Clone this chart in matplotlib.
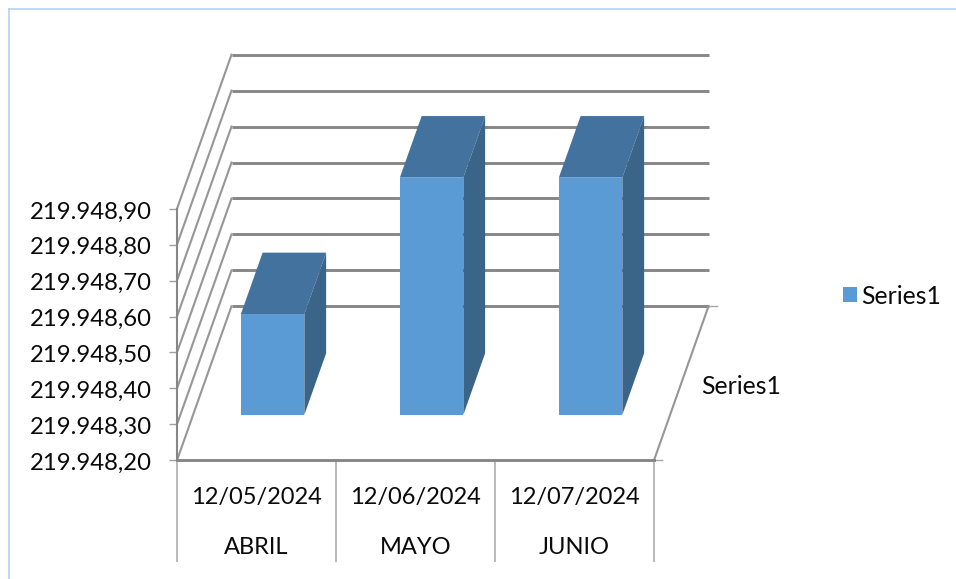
import matplotlib
matplotlib.use("Agg")
import matplotlib.pyplot as plt
from matplotlib.ticker import FixedLocator
from matplotlib.transforms import ScaledTranslation

plt.rcParams['font.family'] = ['Lato', 'DejaVu Sans']

dates = ["12/05/2024", "12/06/2024", "12/07/2024"]
months = ["ABRIL", "MAYO", "JUNIO"]
series_name = "Series1"
values = [219948.48, 219948.86, 219948.86]
y_ticks = [219948.2, 219948.3, 219948.4, 219948.5, 219948.6, 219948.7, 219948.8, 219948.9]
y_labels = ["219.948,20", "219.948,30", "219.948,40", "219.948,50",
            "219.948,60", "219.948,70", "219.948,80", "219.948,90"]

W, H = 956, 579
L, R, T, B = 177, 654, 208.7, 460.3
fig = plt.figure(figsize=(W / 100, H / 100), dpi=100, facecolor="white")
ax = fig.add_axes([L / W, 1 - B / H, (R - L) / W, (B - T) / H])
ax.set_facecolor("none")
ax.set_xlim(-0.5, 2.5)
ax.set_ylim(y_ticks[0], y_ticks[-1])

px_x = 3 / (R - L)
px_y = (y_ticks[-1] - y_ticks[0]) / (B - T)
DX, DY = 54.5 * px_x, 154 * px_y   # full depth of the floor
GRID = "#868686"
FRONT, TOP, SIDE = "#5B9BD5", "#44729F", "#3A6488"


def proj(x, y, d):
    return x + d * DX, y + d * DY


# frame of the chart area
frame = "#B4D3F2"
fig.add_artist(plt.Line2D([8.5 / W, 8.5 / W], [0, 1 - 8.5 / H], color=frame, lw=1.2))
fig.add_artist(plt.Line2D([8.5 / W, 1], [1 - 8.5 / H, 1 - 8.5 / H], color=frame, lw=1.2))

# walls and floor
x0, x1 = -0.5, 2.5
for i, t in enumerate(y_ticks):
    ax.plot(*zip(proj(x0, t, 0), proj(x0, t, 1)), color="#969696", lw=1.5, clip_on=False, zorder=1)
    ax.plot(*zip(proj(x0, t, 1), proj(x1, t, 1)), color=GRID, lw=2.1, clip_on=False, zorder=1,
            solid_capstyle="butt")
ax.plot(*zip(proj(x1, y_ticks[0], 0), proj(x1, y_ticks[0], 1)), color="#969696", lw=1.5,
        clip_on=False, zorder=1)
for d in (0, 1):
    ax.plot(*zip(proj(x1, y_ticks[0], d), (proj(x1, y_ticks[0], d)[0] + 8 * px_x, proj(x1, y_ticks[0], d)[1])),
            color="#A6A6A6", lw=1, clip_on=False, zorder=1)

# bars
pos = [0, 1, 2]
bar_w = 63.5 * px_x
d0, depth = 0.295, 0.40
floor = y_ticks[0]
for x, v in zip(pos, values):
    xl, yb = proj(x - bar_w / 2, floor, d0)
    xr = xl + bar_w
    yt = yb + (v - floor)
    ox, oy = depth * DX, depth * DY
    ax.fill([xl, xr, xr + ox, xl + ox], [yt, yt, yt + oy, yt + oy], color=TOP, lw=0, zorder=3, clip_on=False)
    ax.fill([xr, xr + ox, xr + ox, xr], [yb, yb + oy, yt + oy, yt], color=SIDE, lw=0, zorder=3, clip_on=False)
bars = ax.bar([proj(x, floor, d0)[0] for x in pos], [v - floor for v in values], width=bar_w,
              bottom=proj(0, floor, d0)[1], color=FRONT, lw=0, zorder=4, clip_on=False, label=series_name)

# axes
for s in ("top", "right"):
    ax.spines[s].set_visible(False)
ax.spines["left"].set_color(GRID)
ax.spines["left"].set_linewidth(1.5)
ax.spines["bottom"].set_color(GRID)
ax.spines["bottom"].set_linewidth(2.1)
ax.set_yticks(y_ticks, y_labels, fontsize=17.2, color="#0A0A0A")
ax.tick_params(axis="y", length=5.5, width=1, color="#A0A0A0", pad=12.6)
nudge = ScaledTranslation(0, -1.2 / 100, fig.dpi_scale_trans)
for lab in ax.get_yticklabels():
    lab.set_transform(lab.get_transform() + nudge)
ax.set_xticks(pos, dates, fontsize=17, color="#0A0A0A")
ax.xaxis.set_minor_locator(FixedLocator([-0.5, 0.5, 1.5, 2.5]))
ax.tick_params(axis="x", which="major", length=0, pad=19)
ax.tick_params(axis="x", which="minor", length=102 * 0.72, width=1.1, color="#A6A6A6")
for x, m in zip(pos, months):
    ax.annotate(m, (x, 0), xycoords=("data", "axes fraction"), xytext=(0, -87.5 * 0.72),
                textcoords="offset points", ha="center", va="center", fontsize=17, color="#0A0A0A")

# depth axis label
ax.annotate(series_name, (2.5, floor), xycoords="data", xytext=(47.5 * 0.72, 74 * 0.72),
            textcoords="offset points", ha="left", va="center", fontsize=17.8, color="#0A0A0A")

leg = ax.legend(handles=[bars], loc="center left", bbox_to_anchor=(843 / W, 1 - 296 / H),
                bbox_transform=fig.transFigure, frameon=False, fontsize=17.8, handlelength=0.57,
                handleheight=0.57, handletextpad=0.15, borderpad=0, borderaxespad=0,
                labelcolor="#0A0A0A")

fig.savefig("out.png", dpi=100, facecolor="white")
